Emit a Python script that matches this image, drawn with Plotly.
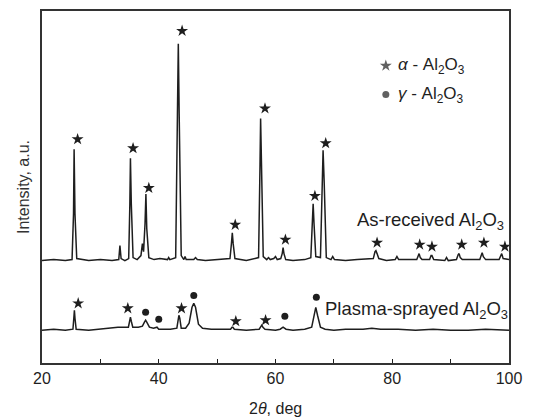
import plotly.graph_objects as go

# ---- As-received Al2O3 pattern (2theta, intensity a.u.) ----
asr_x = [20, 22, 24, 25.15, 25.4, 25.5, 25.65, 25.95, 28, 30, 32, 33.15, 33.35, 33.55, 34.2,
         34.85, 35.05, 35.15, 35.3, 35.6, 36.3, 36.95, 37.2, 37.4, 37.65, 37.8, 37.95, 38.3,
         39.2, 40.2, 41.5, 41.7, 41.9, 42.9, 43.2, 43.35, 43.5, 43.85, 44.3, 44.5, 44.7, 46.0,
         46.3, 46.6, 48, 50, 52.2, 52.45, 52.6, 52.75, 53.05, 55, 57.1, 57.35, 57.45, 57.6,
         57.9, 58.5, 58.8, 59.1, 59.7, 60.0, 60.3, 60.9, 61.15, 61.3, 61.45, 61.75, 63, 65,
         66.05, 66.3, 66.45, 66.6, 66.9, 67.7, 67.95, 68.15, 68.35, 68.7, 69.5, 69.8, 70.1,
         72, 74, 76.75, 77.05, 77.2, 77.4, 77.7, 79, 80.5, 80.8, 81.1, 84.2, 84.5, 84.6, 84.8,
         85.1, 86.4, 86.65, 86.8, 87.1, 89.0, 89.3, 89.6, 91.0, 91.3, 91.45, 91.65, 92.0, 95.0,
         95.25, 95.4, 95.6, 96.0, 98.3, 98.6, 98.75, 99.0, 100]
asr_y = [103, 104, 103, 104, 150, 215, 150, 105, 103, 104, 103, 104, 118, 105, 103,
         105, 160, 206, 160, 106, 104, 108, 120, 112, 140, 170, 135, 106,
         104, 105, 104, 106, 104, 106, 250, 321, 250, 108, 104, 107, 104, 104,
         106, 104, 103, 104, 105, 120, 131, 120, 105, 103, 106, 200, 246, 200,
         107, 104, 106, 104, 105, 107, 104, 105, 110, 116, 110, 104, 103, 104,
         106, 140, 160, 140, 107, 106, 180, 214, 180, 106, 104, 107, 104,
         103, 104, 105, 112, 113, 110, 105, 103, 104, 107, 104, 104, 109, 110, 106,
         104, 104, 108, 108, 104, 103, 106, 103, 104, 109, 110, 106, 104, 104,
         109, 111, 107, 104, 104, 109, 110, 105, 104]

# ---- Plasma-sprayed Al2O3 pattern ----
ps_x = [20, 22, 24, 25.3, 25.45, 25.55, 25.65, 25.85, 28, 30, 31.5, 33, 34.8, 35.0, 35.15,
        35.3, 35.55, 36.5, 37.2, 37.55, 37.75, 37.95, 38.4, 39.1, 39.5, 39.7, 40.0, 41, 42,
        43.1, 43.3, 43.45, 43.6, 43.85, 44.6, 45.2, 45.7, 46.0, 46.3, 46.8, 47.5, 49, 51,
        52.3, 52.55, 52.7, 52.95, 55, 57.2, 57.5, 57.65, 57.85, 58.2, 60, 60.8, 61.3, 61.8,
        63, 65, 66.2, 66.6, 66.9, 67.2, 67.7, 68.5, 70, 72, 75, 76.5, 78, 81, 84, 87, 90, 93,
        96, 100]
ps_y = [33, 34, 33, 34, 45, 53, 45, 34, 33, 34, 35, 36, 36, 42, 46,
        42, 36, 36, 37, 41, 43, 41, 36, 35, 36, 36, 34, 34, 34,
        35, 45, 48, 45, 35, 35, 40, 56, 60, 56, 39, 35, 34, 34,
        34, 36, 36, 34, 33, 34, 37, 38, 36, 34, 33, 34, 36, 34,
        33, 34, 36, 48, 56, 48, 36, 34, 33, 34, 34, 35, 34, 34, 33, 34, 33, 33,
        34, 33]

# ---- phase markers ----
asr_star_x = [26.1, 35.6, 38.3, 44.0, 53.1, 58.2, 61.7, 66.75, 68.6, 77.4, 84.7, 86.8, 91.9, 95.7, 99.3]
asr_star_y = [225, 216, 176, 334, 139, 256, 124, 168, 221, 121, 119, 117, 119, 121, 117]
ps_star_x = [26.2, 34.7, 43.9, 53.2, 58.3]
ps_star_y = [60, 55, 55, 42, 43]
ps_circ_x = [37.75, 40.0, 46.0, 61.6, 67.0]
ps_circ_y = [51, 44, 68, 47, 66]

legend_symbols = ["star", "circle"]
legend_labels = ["<i>α</i> - Al<sub>2</sub>O<sub>3</sub>", "<i>γ</i> - Al<sub>2</sub>O<sub>3</sub>"]
legend_x = 78.9
legend_y = [299, 270]

x_ticks = [20, 40, 60, 80, 100]

FONT = "Liberation Sans, Arial, sans-serif"
INK = "#1e1e1e"

fig = go.Figure()
fig.add_trace(go.Scatter(x=asr_x, y=asr_y, mode="lines",
                         line=dict(color=INK, width=1.5), hoverinfo="skip"))
fig.add_trace(go.Scatter(x=ps_x, y=ps_y, mode="lines",
                         line=dict(color=INK, width=1.5), hoverinfo="skip"))
fig.add_trace(go.Scatter(x=asr_star_x + ps_star_x, y=asr_star_y + ps_star_y, mode="markers",
                         marker=dict(symbol="star", size=9, color=INK, line=dict(width=0))))
fig.add_trace(go.Scatter(x=ps_circ_x, y=ps_circ_y, mode="markers",
                         marker=dict(symbol="circle", size=7, color=INK, line=dict(width=0))))
fig.add_trace(go.Scatter(x=[legend_x] * 2, y=legend_y, mode="markers",
                         marker=dict(symbol=legend_symbols, size=[9, 7], color=INK,
                                     line=dict(width=0))))

for lab, ly in zip(legend_labels, legend_y):
    fig.add_annotation(x=legend_x, y=ly, xref="x", yref="y", text=lab, showarrow=False,
                       xanchor="left", xshift=10, font=dict(size=17, color=INK, family=FONT))

fig.add_annotation(x=99.4, y=143, xref="x", yref="y", showarrow=False, xanchor="right",
                   text="As-received Al<sub>2</sub>O<sub>3</sub>",
                   font=dict(size=18.5, color=INK, family=FONT))
fig.add_annotation(x=68.1, y=53, xref="x", yref="y", showarrow=False, xanchor="left",
                   text="Plasma-sprayed Al<sub>2</sub>O<sub>3</sub>",
                   font=dict(size=18.5, color=INK, family=FONT))

fig.add_annotation(x=0, y=0.5, xref="paper", yref="paper", xshift=-19, showarrow=False,
                   xanchor="center", yanchor="middle",
                   textangle=-90, text="Intensity, a.u.",
                   font=dict(size=16, color="#333", family=FONT))
fig.add_annotation(x=0.5, y=0, xref="paper", yref="paper", yshift=-45, showarrow=False,
                   xanchor="center", yanchor="middle",
                   text="2<i>θ</i>, deg", font=dict(size=16, color=INK, family=FONT))

fig.update_layout(
    width=534, height=418, margin=dict(l=42, r=25, t=9, b=55),
    paper_bgcolor="white", plot_bgcolor="white", showlegend=False,
    font=dict(family=FONT, size=16, color=INK),
)
fig.update_xaxes(range=[20, 100], tickvals=x_ticks, ticks="inside", ticklen=4,
                 tickcolor=INK, showline=True, mirror=True, linecolor="#333",
                 linewidth=1.5, showgrid=False, zeroline=False,
                 minor=dict(dtick=10, tick0=20, ticks="inside", ticklen=4, tickcolor=INK),
                 tickfont=dict(size=16, color=INK))
fig.update_yaxes(range=[0, 354], showticklabels=False, ticks="", showline=True, mirror=True,
                 linecolor="#333", linewidth=1.5, showgrid=False, zeroline=False)

fig.write_html("out.html", config={"displayModeBar": False},
               post_script="document.body.style.margin='0';")
